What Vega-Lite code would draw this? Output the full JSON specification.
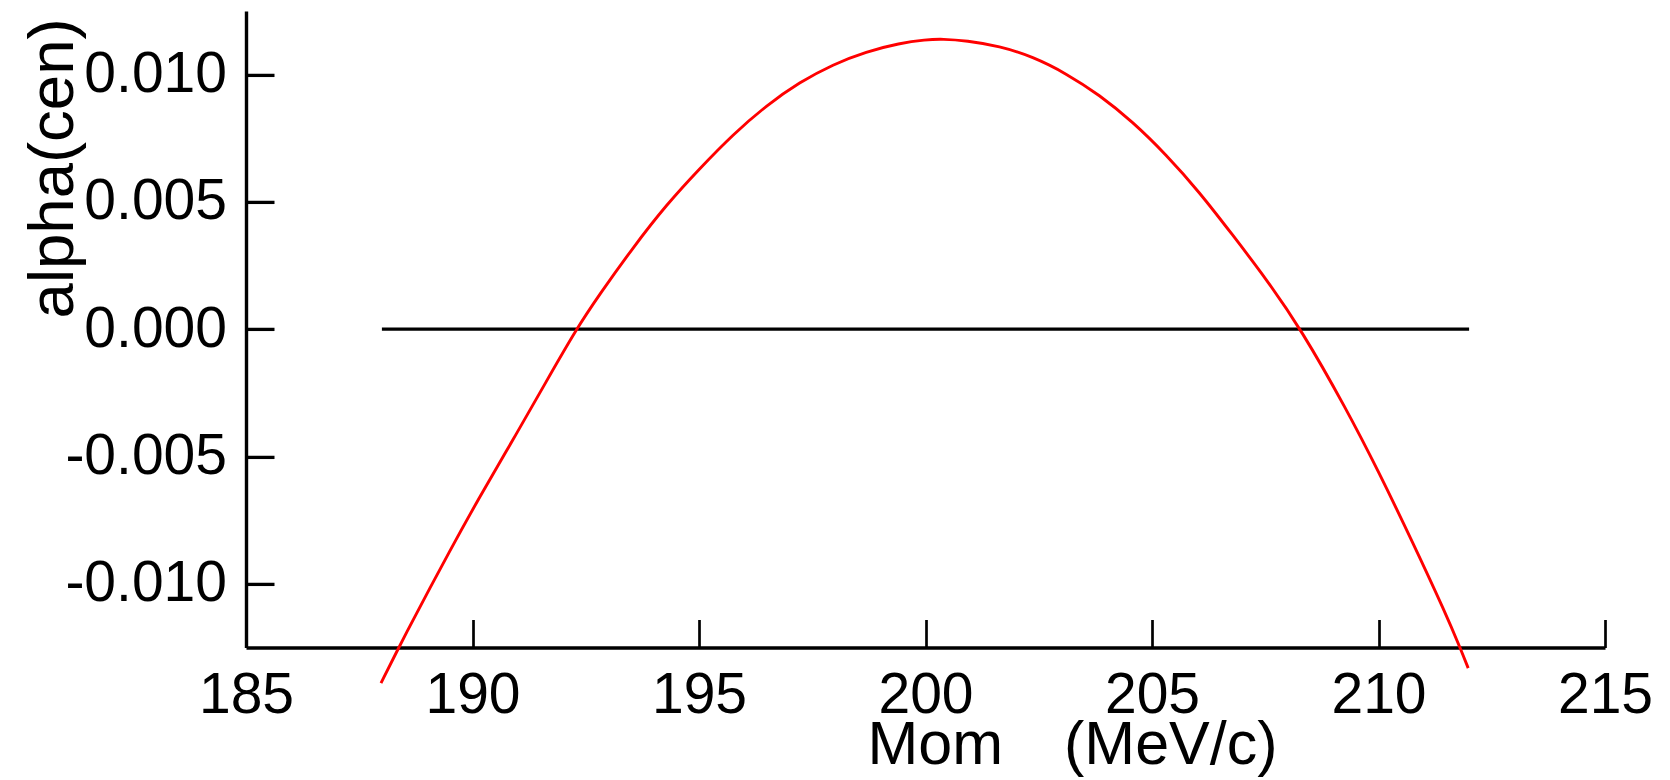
{
  "$schema": "https://vega.github.io/schema/vega-lite/v6.json",
  "width": 1359,
  "height": 636.6,
  "autosize": {"type": "none"},
  "padding": {"left": 246, "top": 10.9, "right": 65, "bottom": 132.5},
  "background": "white",
  "config": {"view": {"stroke": null}, "font": "Liberation Sans"},
  "datasets": {
    "curve": [
      {"mom": 187.98, "alpha": -0.01390},
      {"mom": 188.29, "alpha": -0.01279},
      {"mom": 188.69, "alpha": -0.01141},
      {"mom": 189.06, "alpha": -0.01017},
      {"mom": 189.43, "alpha": -0.00893},
      {"mom": 190.16, "alpha": -0.00657},
      {"mom": 190.90, "alpha": -0.00433},
      {"mom": 191.63, "alpha": -0.00205},
      {"mom": 192.29, "alpha": 0.00000},
      {"mom": 192.81, "alpha": 0.00138},
      {"mom": 193.54, "alpha": 0.00320},
      {"mom": 194.28, "alpha": 0.00489},
      {"mom": 195.02, "alpha": 0.00632},
      {"mom": 195.75, "alpha": 0.00765},
      {"mom": 196.49, "alpha": 0.00879},
      {"mom": 197.22, "alpha": 0.00970},
      {"mom": 197.96, "alpha": 0.01040},
      {"mom": 198.69, "alpha": 0.01090},
      {"mom": 199.43, "alpha": 0.01123},
      {"mom": 200.00, "alpha": 0.01137},
      {"mom": 200.38, "alpha": 0.01140},
      {"mom": 200.90, "alpha": 0.01133},
      {"mom": 201.63, "alpha": 0.01112},
      {"mom": 202.37, "alpha": 0.01070},
      {"mom": 203.10, "alpha": 0.01005},
      {"mom": 203.84, "alpha": 0.00920},
      {"mom": 204.57, "alpha": 0.00815},
      {"mom": 205.31, "alpha": 0.00686},
      {"mom": 206.04, "alpha": 0.00540},
      {"mom": 206.78, "alpha": 0.00370},
      {"mom": 207.51, "alpha": 0.00200},
      {"mom": 208.29, "alpha": 0.00000},
      {"mom": 209.28, "alpha": -0.00310},
      {"mom": 210.01, "alpha": -0.00562},
      {"mom": 210.75, "alpha": -0.00835},
      {"mom": 211.48, "alpha": -0.01115},
      {"mom": 211.81, "alpha": -0.01255},
      {"mom": 211.98, "alpha": -0.01331}
    ],
    "zero": [
      {"mom": 188, "alpha": 0},
      {"mom": 212, "alpha": 0}
    ]
  },
  "encoding": {
    "x": {
      "field": "mom",
      "type": "quantitative",
      "scale": {"domain": [185, 215], "nice": false, "zero": false},
      "axis": {
        "values": [185, 190, 195, 200, 205, 210, 215],
        "grid": false,
        "title": "Mom\u2003(MeV/c)",
        "domainColor": "black",
        "domainWidth": 3.6,
        "tickColor": "black",
        "tickWidth": 2.7,
        "tickSize": -28,
        "labelFontSize": 57,
        "labelColor": "black",
        "labelPadding": 48,
        "labelFlush": false,
        "labelOverlap": false,
        "titleFontSize": 61,
        "titleFontWeight": "normal",
        "titleColor": "black",
        "titleX": 826,
        "titleY": 116,
        "titleAlign": "center",
        "titleBaseline": "alphabetic"
      }
    },
    "y": {
      "field": "alpha",
      "type": "quantitative",
      "scale": {"domain": [-0.0125, 0.0125], "nice": false, "zero": false},
      "axis": {
        "values": [-0.01, -0.005, 0, 0.005, 0.01],
        "format": ".3f",
        "labelExpr": "replace(datum.label, '\u2212', '-')",
        "grid": false,
        "title": "alpha(cen)",
        "domainColor": "black",
        "domainWidth": 3.4,
        "tickColor": "black",
        "tickWidth": 3.3,
        "tickSize": -28,
        "labelFontSize": 57,
        "labelColor": "black",
        "labelPadding": 47.5,
        "labelFlush": false,
        "labelOverlap": false,
        "titleFontSize": 63.5,
        "titleFontWeight": "normal",
        "titleColor": "black",
        "titleAngle": -90,
        "titleX": -174,
        "titleY": 157,
        "titleAlign": "center",
        "titleBaseline": "alphabetic"
      }
    }
  },
  "layer": [
    {
      "data": {"name": "zero"},
      "mark": {"type": "line", "color": "black", "strokeWidth": 3.2}
    },
    {
      "data": {"name": "curve"},
      "mark": {"type": "line", "color": "#ff0000", "strokeWidth": 2.9, "interpolate": "basis"}
    }
  ]
}
